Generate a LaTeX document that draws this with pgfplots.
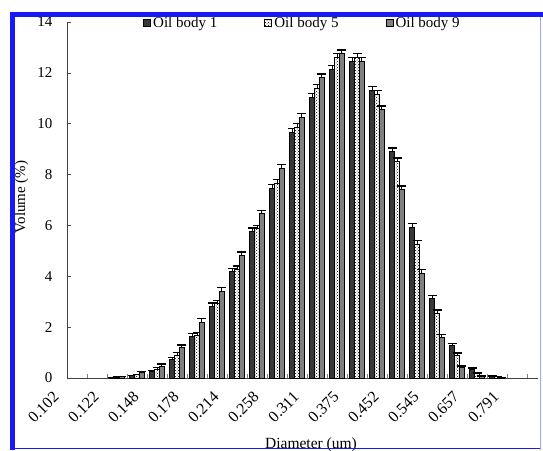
\documentclass[border=0pt]{standalone}
\usepackage{pgfplots}
\pgfplotsset{compat=1.18}
\usepackage{pgfplotstable}
\usetikzlibrary{patterns}
\usepackage{fontspec}
\setmainfont{Liberation Serif}
\definecolor{frameblue}{RGB}{25,25,245}

\pgfplotstableread{
k b1 e1 b5 e5 b9 e9
2 0.01 0.01 0.03 0.01 0.05 0.01
3 0.08 0.02 0.12 0.03 0.20 0.05
4 0.24 0.06 0.33 0.07 0.46 0.09
5 0.72 0.08 0.90 0.10 1.18 0.12
6 1.62 0.13 1.68 0.12 2.20 0.15
7 2.82 0.13 2.92 0.13 3.40 0.15
8 4.17 0.13 4.27 0.13 4.80 0.15
9 5.77 0.13 5.87 0.13 6.45 0.15
10 7.47 0.13 7.65 0.15 8.25 0.15
11 9.65 0.15 9.85 0.15 10.25 0.15
12 11.05 0.15 11.40 0.15 11.80 0.15
13 12.15 0.15 12.60 0.15 12.75 0.15
14 12.45 0.15 12.60 0.15 12.45 0.15
15 11.30 0.15 11.15 0.15 10.55 0.15
16 8.90 0.15 8.50 0.15 7.40 0.15
17 5.92 0.15 5.25 0.15 4.12 0.15
18 3.12 0.13 2.54 0.13 1.60 0.12
19 1.27 0.10 0.88 0.10 0.40 0.07
20 0.33 0.06 0.16 0.04 0.06 0.02
21 0.06 0.02 0.04 0.01 0.01 0.01
}\datatable

\begin{document}
\begin{tikzpicture}
\begin{axis}[
  at={(67pt,72pt)}, anchor=south west,
  scale only axis,
  width=471pt, height=356pt,
  xmin=-0.5, xmax=23.05,
  ymin=0, ymax=14,
  axis lines*=left,
  axis line style={black!75, line width=0.8pt},
  ybar=0pt, bar width=4.7pt,
  xtick={0,2,...,22},
  xticklabels={0.102,0.122,0.148,0.178,0.214,0.258,0.311,0.375,0.452,0.545,0.657,0.791},
  minor xtick={0.5,1.5,...,22.5},
  major x tick style={draw=none},
  minor tick length=4pt,
  every minor tick/.style={black!50, line width=0.6pt},
  ytick={0,2,...,14},
  major tick length=4pt,
  major y tick style={black!70, line width=0.6pt},
  tick align=inside,
  /pgf/number format/assume math mode=true,
  tick label style={font=\fontsize{15}{18}\selectfont},
  xticklabel style={font=\fontsize{16}{18}\selectfont, rotate=45, anchor=north east, xshift=-23pt, yshift=12pt},
  yticklabel style={xshift=-11pt},
  legend columns=3,
  legend style={draw=none, fill=none, at={(0.155,0.997)}, anchor=west,
    font=\fontsize{15}{18}\selectfont,
    /tikz/every even column/.append style={column sep=45pt}},
  legend image code/.code={\draw[#1] (0pt,-3.5pt) rectangle (7pt,3.5pt);},
  error bars/y dir=plus,
  error bars/y explicit,
  error bars/error bar style={black, line width=1pt},
  error bars/error mark options={rotate=90, mark size=4.5pt, line width=1.3pt, black},
  clip=false,
]
\addplot[draw=black, line width=1pt, fill=black!78] table[x=k, y=b1, y error=e1] {\datatable};
\addplot[draw=black, line width=1pt, fill=white, postaction={pattern=crosshatch dots, pattern color=black}] table[x=k, y=b5, y error=e5] {\datatable};
\addplot[draw=black, line width=1pt, fill=black!50] table[x=k, y=b9, y error=e9] {\datatable};
\legend{Oil body 1, Oil body 5, Oil body 9}
\end{axis}
\node[rotate=90, anchor=base, font=\fontsize{15}{18}\selectfont] at (25pt,253pt) {Volume (\%)};
\node[anchor=base, font=\fontsize{15.5}{18}\selectfont] at (311pt,2pt) {Diameter (um)};
\fill[frameblue] (10pt,433pt) rectangle (543pt,438pt);
\fill[frameblue] (10pt,0pt) rectangle (15pt,438pt);
\draw[frameblue, line width=1.5pt] (10pt,1.5pt) -- (541pt,1.5pt);
\draw[frameblue!40, line width=1pt] (540pt,0pt) -- (540pt,433pt);
\pgfresetboundingbox
\path[use as bounding box] (0,0) rectangle (543pt,450pt);
\end{tikzpicture}
\end{document}
